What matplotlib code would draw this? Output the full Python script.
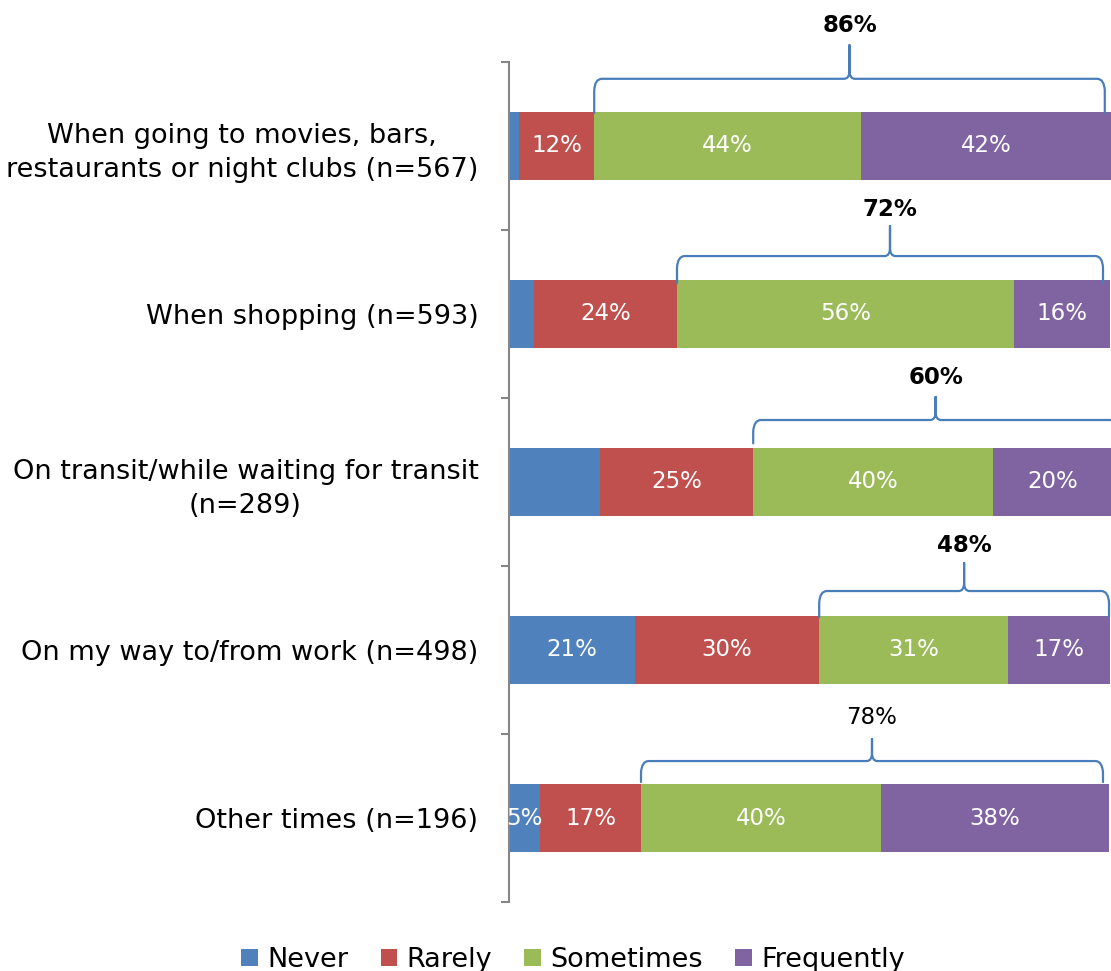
import matplotlib
matplotlib.use('Agg')
import matplotlib.pyplot as plt
from matplotlib.path import Path
from matplotlib.patches import PathPatch, Patch

# ---------------- data ----------------
categories = ["When going to movies, bars,\nrestaurants or night clubs (n=567)",
              "When shopping (n=593)",
              "On transit/while waiting for transit\n(n=289)",
              "On my way to/from work (n=498)",
              "Other times (n=196)"]
series_names = ["Never", "Rarely", "Sometimes", "Frequently"]
never = [1.7, 4.2, 15.2, 21.0, 5.2]
rarely = [12.5, 23.8, 25.5, 30.7, 16.8]
sometimes = [44.5, 56.1, 40.0, 31.5, 40.0]
frequently = [41.7, 16.0, 20.0, 17.0, 38.0]
never_labels = ["", "", "", "21%", "5%"]
rarely_labels = ["12%", "24%", "25%", "30%", "17%"]
sometimes_labels = ["44%", "56%", "40%", "31%", "40%"]
frequently_labels = ["42%", "16%", "20%", "17%", "38%"]
bracket_labels = ["86%", "72%", "60%", "48%", "78%"]
bracket_bold = [True, True, True, True, False]

# ---------------- style / layout ----------------
colors = ["#4F81BD", "#C0504D", "#9BBB59", "#8064A2"]
brace_color = "#4A7EBB"
font = "DejaVu Sans"
# brace geometry: right end (x) and vertical offsets from bar centre (category units, negative = up)
brace_right = [99.3, 99.0, 101.5, 100.0, 99.0]
brace_bottom = [-0.196, -0.185, -0.23, -0.196, -0.214]
brace_horiz = [-0.40, -0.345, -0.369, -0.351, -0.339]
brace_peak = [-0.60, -0.524, -0.506, -0.518, -0.47]
brace_text = [-0.72, -0.62, -0.625, -0.625, -0.60]

fig = plt.figure(figsize=(11.11, 9.71), dpi=100)
ax = fig.add_axes([509 / 1111, 69 / 971, 600 / 1111, 840 / 971])

series = [never, rarely, sometimes, frequently]
labels = [never_labels, rarely_labels, sometimes_labels, frequently_labels]
ypos = list(range(len(categories)))
left = [0.0] * len(categories)
for s, vals in enumerate(series):
    ax.barh(ypos, vals, left=left, height=0.4, color=colors[s], edgecolor='none',
            label=series_names[s], clip_on=False)
    for i, v in enumerate(vals):
        if labels[s][i]:
            ax.text(left[i] + v / 2, i, labels[s][i], ha='center', va='center',
                    color='white', fontsize=16.5, family=font)
    left = [l + v for l, v in zip(left, vals)]

# braces
for i in range(len(categories)):
    x0 = never[i] + rarely[i]
    x1 = brace_right[i]
    xm = (x0 + x1) / 2
    yb = i + brace_bottom[i]
    yh = i + brace_horiz[i]
    yp = i + brace_peak[i]
    rx, ry = 1.3, 0.07
    cx, cy = 0.9, 0.05
    verts = [(x0, yb), (x0, yh + ry), (x0 + 0.1, yh), (x0 + rx, yh),
             (xm - cx, yh), (xm, yh), (xm, yh - cy), (xm, yp),
             (xm, yp), (xm, yh - cy), (xm, yh), (xm + cx, yh),
             (x1 - rx, yh), (x1 - 0.1, yh), (x1, yh + ry), (x1, yb)]
    codes = [Path.MOVETO, Path.LINETO, Path.CURVE3, Path.CURVE3,
             Path.LINETO, Path.CURVE3, Path.CURVE3, Path.LINETO,
             Path.MOVETO, Path.LINETO, Path.CURVE3, Path.CURVE3,
             Path.LINETO, Path.CURVE3, Path.CURVE3, Path.LINETO]
    ax.add_patch(PathPatch(Path(verts, codes), facecolor='none', edgecolor=brace_color,
                           linewidth=1.6, clip_on=False, capstyle='round'))
    ax.text(xm, i + brace_text[i], bracket_labels[i], ha='center', va='center',
            fontsize=16.5, family=font, color='black',
            fontweight='bold' if bracket_bold[i] else 'normal')

ax.set_xlim(0, 100)
ax.set_ylim(len(categories) - 0.5, -0.5)
ax.set_yticks(ypos)
ax.set_yticklabels(categories, fontsize=19.5, family=font, linespacing=1.4,
                   multialignment='center')
ax.set_yticks([i - 0.5 for i in range(len(categories) + 1)], minor=True)
ax.tick_params(axis='y', which='major', length=0, pad=22)
ax.tick_params(axis='y', which='minor', length=6, width=1.5, color='#868686')
ax.xaxis.set_visible(False)
for sp in ['top', 'right', 'bottom']:
    ax.spines[sp].set_visible(False)
ax.spines['left'].set_color('#868686')
ax.spines['left'].set_linewidth(1.5)

handles = [Patch(facecolor=c, edgecolor='none') for c in colors]
fig.legend(handles, series_names, loc='center', bbox_to_anchor=(573 / 1111, 11 / 971),
           ncol=4, frameon=False, prop={'family': font, 'size': 19.5},
           handlelength=0.6, handleheight=0.6, handletextpad=0.35, columnspacing=1.2,
           borderaxespad=0, borderpad=0)

fig.savefig('out.png', dpi=100)
